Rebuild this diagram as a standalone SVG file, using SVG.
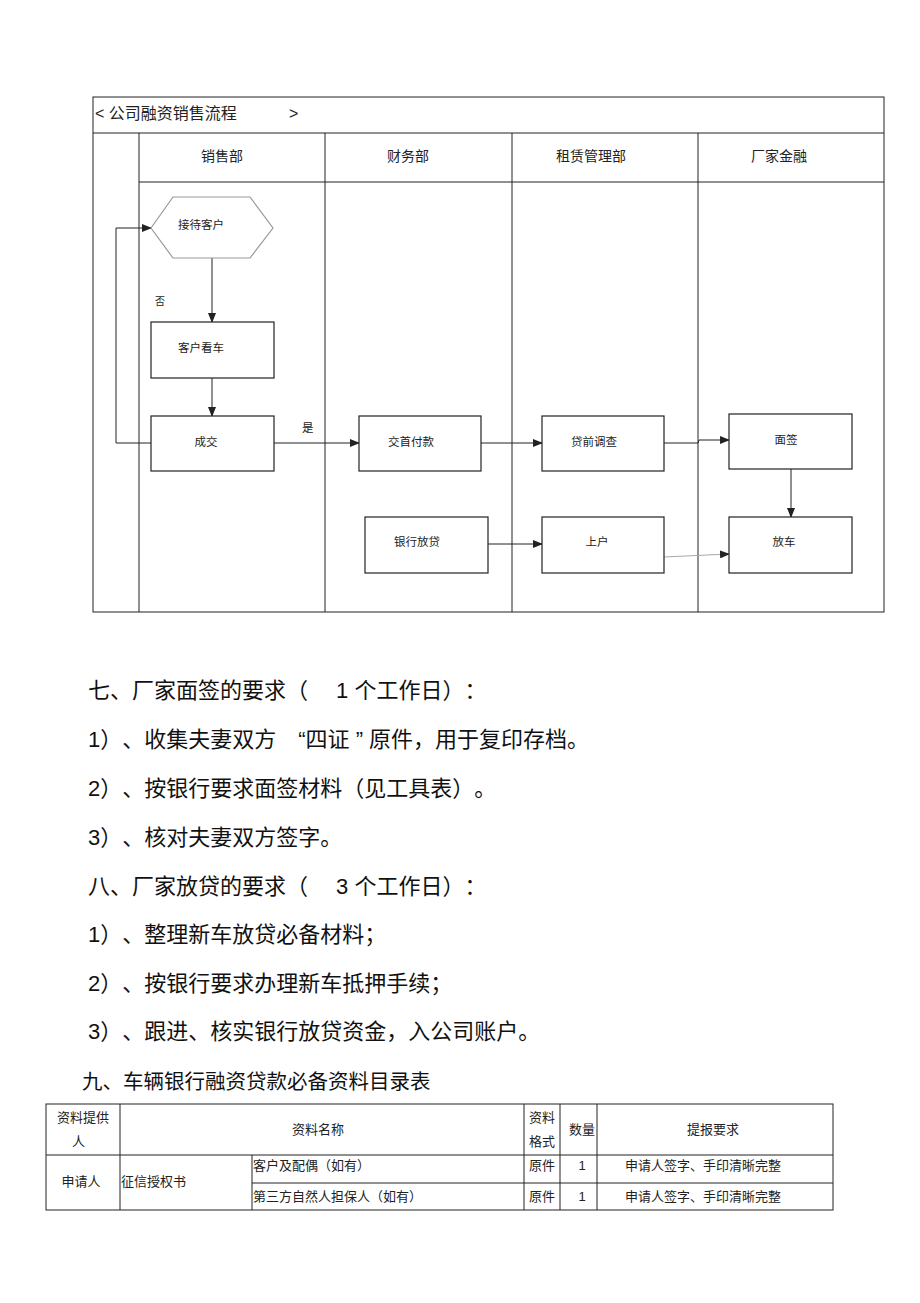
<svg xmlns="http://www.w3.org/2000/svg" width="920" height="1303" viewBox="0 0 920 1303">
<style>
.ln{stroke:#222;stroke-width:1;fill:none}
.box{stroke:#222;stroke-width:1.2;fill:#fff}
.t{font-family:"Liberation Sans","Noto Sans CJK SC",sans-serif;fill:#222;text-spacing-trim:space-all}
.s{font-size:11.5px}
.h{font-size:14px}
.p{font-size:22px;fill:#111}
.p9{font-size:20.5px;fill:#111}
.tb{font-size:13px}
.c{text-anchor:middle}
</style>
<defs>
<marker id="ar" markerWidth="10" markerHeight="8" refX="9" refY="4" orient="auto" markerUnits="userSpaceOnUse">
<path d="M0,0 L10,4 L0,8 z" fill="#222"/>
</marker>
</defs>
<rect width="920" height="1303" fill="#fff"/>
<g id="swimlane">
<rect x="93" y="97" width="791" height="515" class="ln"/>
<line x1="93" y1="133" x2="884" y2="133" class="ln"/>
<line x1="139" y1="182" x2="884" y2="182" class="ln"/>
<line x1="139" y1="133" x2="139" y2="612" class="ln"/>
<line x1="325" y1="133" x2="325" y2="612" class="ln"/>
<line x1="512" y1="133" x2="512" y2="612" class="ln"/>
<line x1="698" y1="133" x2="698" y2="612" class="ln"/>
<text x="95" y="119" class="t" font-size="16">&lt; 公司融资销售流程</text>
<text x="289" y="119" class="t" font-size="16">&gt;</text>
<text x="222" y="161" class="t h c">销售部</text>
<text x="408" y="161" class="t h c">财务部</text>
<text x="591" y="161" class="t h c">租赁管理部</text>
<text x="779" y="161" class="t h c">厂家金融</text>
</g>
<g id="connectors">
<line x1="212" y1="258" x2="212" y2="322" class="ln" marker-end="url(#ar)"/>
<line x1="212" y1="378" x2="212" y2="416" class="ln" marker-end="url(#ar)"/>
<polyline points="151,443 116,443 116,228 151,228" class="ln" marker-end="url(#ar)"/>
<line x1="274" y1="443" x2="359" y2="443" class="ln" marker-end="url(#ar)"/>
<line x1="481" y1="443" x2="542" y2="443" class="ln" marker-end="url(#ar)"/>
<polyline points="664,443 698,443 699,440 729,440" class="ln" marker-end="url(#ar)"/>
<line x1="791" y1="469" x2="791" y2="517" class="ln" marker-end="url(#ar)"/>
<line x1="488" y1="544" x2="542" y2="544" class="ln" marker-end="url(#ar)"/>
<line x1="664" y1="557" x2="729" y2="554" stroke="#aaa" stroke-width="1" marker-end="url(#ar)"/>
<text x="155" y="305" class="t" font-size="10">否</text>
<text x="302" y="432" class="t s">是</text>
</g>
<g id="n1">
<polygon points="151,228 173,197 250,197 273,228 250,258 173,258" stroke="#999" stroke-width="1.2" fill="#fff"/>
<text x="201" y="229" class="t s c">接待客户</text>
</g>
<g id="n2"><rect x="151" y="322" width="123" height="56" class="box"/><text x="201" y="352" class="t s c">客户看车</text></g>
<g id="n3"><rect x="151" y="416" width="123" height="55" class="box"/><text x="206" y="446" class="t s c">成交</text></g>
<g id="n4"><rect x="359" y="416" width="122" height="55" class="box"/><text x="411" y="446" class="t s c">交首付款</text></g>
<g id="n5"><rect x="542" y="416" width="122" height="55" class="box"/><text x="594" y="446" class="t s c">贷前调查</text></g>
<g id="n6"><rect x="729" y="414" width="123" height="55" class="box"/><text x="786" y="444" class="t s c">面签</text></g>
<g id="n7"><rect x="365" y="517" width="123" height="56" class="box"/><text x="417" y="546" class="t s c">银行放贷</text></g>
<g id="n8"><rect x="542" y="517" width="122" height="56" class="box"/><text x="597" y="546" class="t s c">上户</text></g>
<g id="n9"><rect x="729" y="517" width="123" height="56" class="box"/><text x="784" y="546" class="t s c">放车</text></g>
<g id="text" xml:space="preserve">
<text x="88" y="698" class="t p">七、厂家面签的要求（　 1 个工作日）：</text>
<text x="88" y="747" class="t p">1）、收集夫妻双方　“四证 ”<tspan dx="6">原件，用于复印存档。</tspan></text>
<text x="88" y="796" class="t p">2）、按银行要求面签材料（见工具表）。</text>
<text x="88" y="845" class="t p">3）、核对夫妻双方签字。</text>
<text x="88" y="894" class="t p">八、厂家放贷的要求（　 3 个工作日）：</text>
<text x="88" y="942" class="t p">1）、整理新车放贷必备材料；</text>
<text x="88" y="991" class="t p">2）、按银行要求办理新车抵押手续；</text>
<text x="88" y="1039" class="t p">3）、跟进、核实银行放贷资金，入公司账户。</text>
<text x="82" y="1089" class="t p9">九、车辆银行融资贷款必备资料目录表</text>
</g>
<g id="table">
<rect x="46" y="1104" width="787" height="106" class="ln"/>
<line x1="46" y1="1155" x2="833" y2="1155" class="ln"/>
<line x1="252" y1="1183" x2="833" y2="1183" class="ln"/>
<line x1="120" y1="1104" x2="120" y2="1210" class="ln"/>
<line x1="252" y1="1155" x2="252" y2="1210" class="ln"/>
<line x1="524" y1="1104" x2="524" y2="1210" class="ln"/>
<line x1="560" y1="1104" x2="560" y2="1210" class="ln"/>
<line x1="597" y1="1104" x2="597" y2="1210" class="ln"/>
<text x="83" y="1122" class="t tb c">资料提供</text>
<text x="72" y="1146" class="t tb">人</text>
<text x="318" y="1134" class="t tb c">资料名称</text>
<text x="542" y="1122" class="t tb c">资料</text>
<text x="542" y="1146" class="t tb c">格式</text>
<text x="582" y="1134" class="t tb c">数量</text>
<text x="713" y="1134" class="t tb c">提报要求</text>
<text x="81" y="1186" class="t tb c">申请人</text>
<text x="121" y="1186" class="t tb">征信授权书</text>
<text x="253" y="1170" class="t tb">客户及配偶（如有）</text>
<text x="542" y="1170" class="t tb c">原件</text>
<text x="582" y="1170" class="t tb c">1</text>
<text x="703" y="1170" class="t tb c">申请人签字、手印清晰完整</text>
<text x="253" y="1201" class="t tb">第三方自然人担保人（如有）</text>
<text x="542" y="1201" class="t tb c">原件</text>
<text x="582" y="1201" class="t tb c">1</text>
<text x="703" y="1201" class="t tb c">申请人签字、手印清晰完整</text>
</g>
</svg>
